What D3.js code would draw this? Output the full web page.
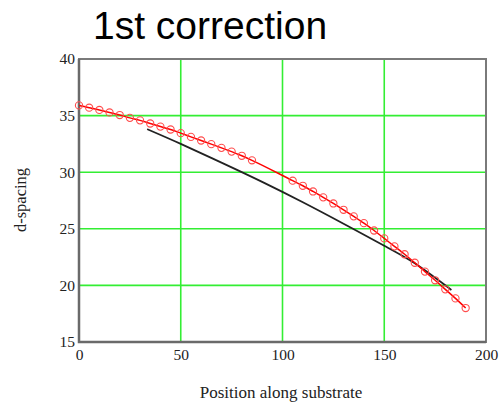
<!DOCTYPE html>
<html>
<head>
<meta charset="utf-8">
<script src="https://cdn.jsdelivr.net/npm/d3@7"></script>
<style>
  html, body { margin: 0; padding: 0; background: #fff; }
  svg { display: block; }
</style>
</head>
<body>
<script>
// Measured d-spacing along the substrate (red, with markers)
const measuredX = [0, 5, 10, 15, 20, 25, 30, 35, 40, 45, 50, 55, 60, 65, 70, 75, 80, 85,
                   105, 110, 115, 120, 125, 130, 135, 140, 145, 150, 155, 160, 165, 170, 175, 180, 185, 190];
const measuredY = [35.9, 35.7, 35.5, 35.28, 35.05, 34.8, 34.58, 34.3, 34.03, 33.77, 33.45, 33.12, 32.8, 32.48, 32.15, 31.82, 31.45, 31.05,
                   29.25, 28.8, 28.3, 27.78, 27.24, 26.68, 26.1, 25.5, 24.85, 24.15, 23.45, 22.75, 22.0, 21.22, 20.45, 19.65, 18.85, 18.0];

// Corrected model curve (black)
const modelX = [33.5, 50, 70, 90, 110, 130, 150, 165, 183];
const modelY = [33.8, 32.5, 30.85, 29.15, 27.35, 25.45, 23.5, 21.95, 19.6];

const xTicks = [0, 50, 100, 150, 200];
const yTicks = [15, 20, 25, 30, 35, 40];

const W = 500, H = 403;
const plot = { left: 79, right: 486, top: 59, bottom: 342 };

const svg = d3.select("body").append("svg")
  .attr("width", W).attr("height", H);

const x = d3.scaleLinear().domain([0, 200]).range([plot.left, plot.right]);
const y = d3.scaleLinear().domain([15, 40]).range([plot.bottom, plot.top]);

// Title
svg.append("text")
  .attr("x", 93).attr("y", 39)
  .attr("font-family", "Liberation Sans, Arial, sans-serif")
  .attr("font-size", 39)
  .attr("fill", "#000")
  .text("1st correction");

// Grid lines (interior only)
const grid = svg.append("g");
grid.selectAll("line.gx")
  .data(xTicks.filter(d => d > 0 && d < 200))
  .join("line")
  .attr("x1", d => x(d)).attr("x2", d => x(d))
  .attr("y1", plot.top).attr("y2", plot.bottom)
  .attr("stroke", "#33ee33").attr("stroke-width", 1.6);
grid.selectAll("line.gy")
  .data(yTicks.filter(d => d > 15 && d < 40))
  .join("line")
  .attr("y1", d => y(d)).attr("y2", d => y(d))
  .attr("x1", plot.left).attr("x2", plot.right)
  .attr("stroke", "#33ee33").attr("stroke-width", 1.6);

// Frame
svg.append("rect")
  .attr("x", plot.left).attr("y", plot.top)
  .attr("width", plot.right - plot.left).attr("height", plot.bottom - plot.top)
  .attr("fill", "none").attr("stroke", "#7a7a7a").attr("stroke-width", 2);
svg.append("path")
  .attr("d", `M${plot.left},${plot.top}V${plot.bottom}H${plot.right}`)
  .attr("fill", "none").attr("stroke", "#6a6a6a").attr("stroke-width", 2.5);

// Axes (labels only)
const xAxis = svg.append("g")
  .attr("transform", `translate(0,${plot.bottom + 3})`)
  .call(d3.axisBottom(x).tickValues(xTicks).tickSize(0).tickPadding(4));
const yAxis = svg.append("g")
  .attr("transform", `translate(${plot.left - 3},0)`)
  .call(d3.axisLeft(y).tickValues(yTicks).tickSize(0).tickPadding(1));
[xAxis, yAxis].forEach(g => {
  g.select(".domain").remove();
  g.selectAll("text")
    .attr("font-family", "Liberation Serif, 'Times New Roman', serif")
    .attr("font-size", 15.5)
    .attr("fill", "#222");
});

// Axis titles
svg.append("text")
  .attr("x", 281).attr("y", 398)
  .attr("text-anchor", "middle")
  .attr("font-family", "Liberation Serif, 'Times New Roman', serif")
  .attr("font-size", 17)
  .attr("fill", "#222")
  .text("Position along substrate");
svg.append("text")
  .attr("transform", "translate(26,200) rotate(-90)")
  .attr("text-anchor", "middle")
  .attr("font-family", "Liberation Serif, 'Times New Roman', serif")
  .attr("font-size", 16.5)
  .attr("fill", "#222")
  .text("d-spacing");

// Model curve
const modelPts = modelX.map((d, i) => [d, modelY[i]]);
svg.append("path")
  .datum(modelPts)
  .attr("fill", "none")
  .attr("stroke", "#222")
  .attr("stroke-width", 1.8)
  .attr("d", d3.line().x(d => x(d[0])).y(d => y(d[1])).curve(d3.curveNatural));

// Measured series
const measPts = measuredX.map((d, i) => [d, measuredY[i]]);
svg.append("path")
  .datum(measPts)
  .attr("fill", "none")
  .attr("stroke", "#ff0000")
  .attr("stroke-width", 1.5)
  .attr("d", d3.line().x(d => x(d[0])).y(d => y(d[1])).curve(d3.curveMonotoneX));
svg.append("g").selectAll("circle")
  .data(measPts)
  .join("circle")
  .attr("cx", d => x(d[0])).attr("cy", d => y(d[1]))
  .attr("r", 3.6)
  .attr("fill", "none")
  .attr("stroke", "#ff4d4d")
  .attr("stroke-width", 1.1);
</script>
</body>
</html>
